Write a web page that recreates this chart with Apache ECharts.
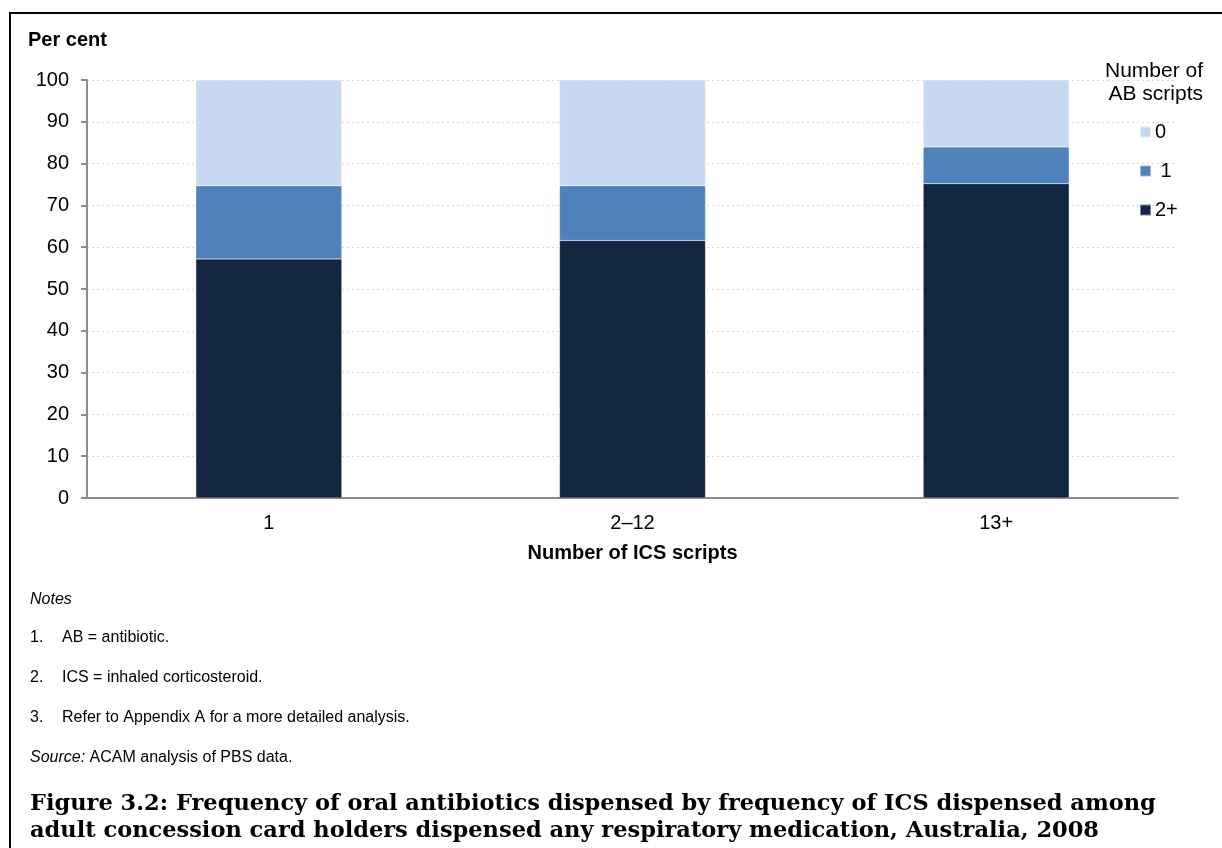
<!DOCTYPE html>
<html><head><meta charset="utf-8">
<script src="https://cdn.jsdelivr.net/npm/echarts@6/dist/echarts.min.js"></script>
<style>html,body{margin:0;padding:0;background:#fff}#c{width:1222px;height:848px}</style>
</head><body><div id="c"></div>
<script>
const categories = ['1', '2\u201312', '13+'];
const seriesNames = ['2+', '1', '0'];
const values2plus = [57.2, 61.6, 75.2];
const values1 = [17.5, 13.1, 8.8];
const values0 = [25.3, 25.3, 16.0];
const yTicks = [0, 10, 20, 30, 40, 50, 60, 70, 80, 90, 100];
const notes = ['AB = antibiotic.', 'ICS = inhaled corticosteroid.', 'Refer to Appendix A for a more detailed analysis.'];

const colors = {'0': '#C6D9F0', '1': '#4F81BD', '2+': '#132641'};
const font = 'Liberation Sans, Arial, sans-serif';
const chart = echarts.init(document.getElementById('c'));
const seriesData = [values2plus, values1, values0];

const textEls = [
  {type:'text', x:28, y:30, style:{text:'Per cent', font:'bold 20px ' + font, fill:'#000'}}
];
textEls.push({type:'text', x:30, y:592, style:{text:'Notes', font:'italic 16px ' + font, fill:'#000'}});
notes.forEach((n, i) => {
  textEls.push({type:'text', x:30, y:630 + i*40, style:{text:(i+1)+'.', font:'16px ' + font, fill:'#000'}});
  textEls.push({type:'text', x:62, y:630 + i*40, style:{text:n, font:'16px ' + font, fill:'#000'}});
});
textEls.push({type:'text', x:30, y:750, style:{rich:{i:{font:'italic 16px ' + font, fill:'#000'}, n:{font:'16px ' + font, fill:'#000'}}, text:'{i|Source:}{n| ACAM analysis of PBS data.}'}});
textEls.push({type:'text', x:30, y:791, style:{text:'Figure 3.2: Frequency of oral antibiotics dispensed by frequency of ICS dispensed among\nadult concession card holders dispensed any respiratory medication, Australia, 2008', font:'bold 22.5px DejaVu Serif, serif', lineHeight:27, fill:'#000'}});
textEls.push({type:'text', x:1203, y:59, style:{text:'Number of\nAB scripts', font:'21px ' + font, lineHeight:23.5, fill:'#000', align:'right', verticalAlign:'top'}});
textEls.push({type:'line', shape:{x1:10, y1:13, x2:1222, y2:13}, style:{stroke:'#000', lineWidth:2}});
textEls.push({type:'line', shape:{x1:10, y1:12, x2:10, y2:848}, style:{stroke:'#000', lineWidth:2}});

chart.setOption({
  animation:false,
  backgroundColor:'#fff',
  textStyle:{fontFamily:font},
  grid:{left:87, right:44, top:80, bottom:350, containLabel:false},
  legend:{
    data:['0','1','2+'], orient:'vertical', left:1139, top:122, padding:0, itemWidth:11, itemHeight:11, itemGap:19,
    icon:'rect', textStyle:{fontSize:20, lineHeight:20, color:'#000', fontFamily:font, padding:[0,0,0,-1]},
    formatter: n => n === '1' ? ' 1' : n
  },
  xAxis:{
    type:'category', data:categories,
    axisLine:{lineStyle:{color:'#8c8c8c', width:2}},
    axisTick:{show:false},
    axisLabel:{fontSize:20, color:'#000', margin:15, fontFamily:font},
    name:'Number of ICS scripts', nameLocation:'middle', nameGap:45,
    nameTextStyle:{fontSize:20, fontWeight:'bold', color:'#000', fontFamily:font}
  },
  yAxis:{
    type:'value', min:0, max:100, interval:10,
    axisLine:{show:true, lineStyle:{color:'#8c8c8c', width:2}},
    axisTick:{show:true, length:6, lineStyle:{color:'#8c8c8c', width:2}},
    axisLabel:{fontSize:20, color:'#000', margin:18, fontFamily:font,
      formatter: v => yTicks.includes(v) ? String(v) : ''},
    splitLine:{show:true, lineStyle:{color:'#DADACB', type:[2,3], width:1}}
  },
  series: seriesNames.map((name, i) => ({
    name, type:'bar', stack:'total', data:seriesData[i], barWidth:146,
    itemStyle:{color:colors[name], borderColor:'rgba(255,255,255,0.45)', borderWidth:0.5}
  })),
  graphic: textEls
});
</script></body></html>
